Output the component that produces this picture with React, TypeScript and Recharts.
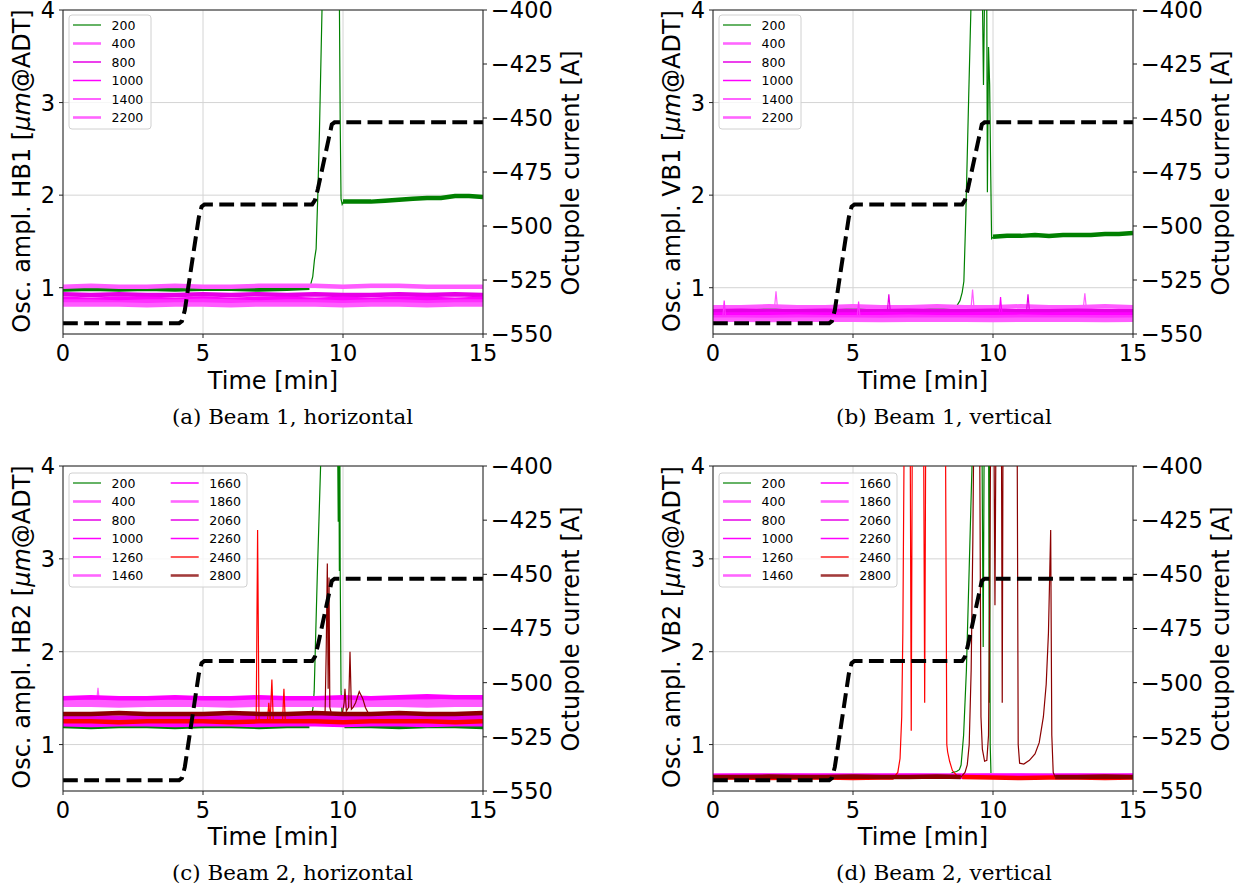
import { CartesianGrid, ComposedChart, Line, ReferenceLine, XAxis, YAxis } from "recharts";

type Pt = [number, number | null];

interface Series {
  name: string;
  band: Pt[];
  spike?: Pt[];
}

const TIME = [0, 1, 2, 3, 4, 5, 6, 7, 8, 9, 10, 11, 12, 13, 14, 15];
const TIME_TICKS = [0, 5, 10, 15];
const AMP_TICKS = [1, 2, 3, 4];
const CURRENT_TICKS = [-550, -525, -500, -475, -450, -425, -400];

// octupole current ramp (right axis), same in all four panels
const OCTUPOLE_CURRENT: Pt[] = [
  [0, -545], [4.15, -545], [4.25, -544], [4.35, -539], [4.85, -496], [4.95, -491], [5.05, -490],
  [8.9, -490], [9.0, -488], [9.1, -483], [9.5, -459], [9.6, -453], [9.7, -452], [15, -452],
];

// ---- (a) Beam 1, horizontal
const HB1_200_BAND: Pt[] = [
  [0, 0.98], [1, 0.99], [2, 0.98], [3, 0.99], [4, 0.98], [5, 0.99], [6, 0.99], [7, 0.98], [8, 0.99], [8.8, 1.0],
  [8.9, null],
  [10, 1.93], [10.5, 1.93], [11, 1.93], [11.5, 1.94], [12, 1.95], [12.5, 1.96], [13, 1.97], [13.5, 1.97], [14, 1.99], [14.5, 1.99], [15, 1.98],
];
const HB1_200_SPIKE: Pt[] = [
  [8.78, 1.0], [8.85, 1.04], [8.92, 1.12], [8.98, 1.3], [9.04, 1.42], [9.1, 2.0], [9.16, 2.7], [9.25, 4.0], [9.3, 4.6],
  [9.86, 4.6], [9.9, 2.8], [9.93, 1.96], [9.97, 1.9], [10.02, 1.93],
];
const HB1_400 = [1.01, 1.02, 1.01, 1.01, 1.02, 1.01, 1.01, 1.02, 1.02, 1.02, 1.01, 1.02, 1.02, 1.01, 1.01, 1.01];
const HB1_800 = [0.93, 0.92, 0.93, 0.92, 0.92, 0.93, 0.92, 0.93, 0.92, 0.93, 0.92, 0.92, 0.93, 0.92, 0.93, 0.92];
const HB1_1000 = [0.88, 0.87, 0.88, 0.88, 0.87, 0.88, 0.87, 0.88, 0.88, 0.87, 0.88, 0.87, 0.88, 0.88, 0.87, 0.88];
const HB1_1400 = [0.85, 0.85, 0.84, 0.85, 0.85, 0.86, 0.85, 0.84, 0.85, 0.85, 0.84, 0.85, 0.85, 0.84, 0.85, 0.85];
const HB1_2200 = [0.82, 0.82, 0.82, 0.81, 0.82, 0.82, 0.81, 0.82, 0.82, 0.82, 0.81, 0.82, 0.82, 0.81, 0.82, 0.82];

// ---- (b) Beam 1, vertical
const VB1_200_BAND: Pt[] = [
  [0, 0.77], [1, 0.77], [2, 0.78], [3, 0.77], [4, 0.77], [5, 0.78], [6, 0.77], [7, 0.77], [8, 0.78], [8.5, 0.78],
  [8.6, null],
  [10, 1.55], [10.5, 1.56], [11, 1.56], [11.5, 1.57], [12, 1.56], [12.5, 1.57], [13, 1.57], [13.5, 1.57], [14, 1.58], [14.5, 1.58], [15, 1.59],
];
const VB1_200_SPIKE: Pt[] = [
  [8.45, 0.78], [8.6, 0.79], [8.72, 0.81], [8.82, 0.86], [8.9, 0.95], [8.96, 1.07], [9.03, 1.79], [9.13, 3.04], [9.21, 4.0], [9.28, 4.7],
  [9.6, 4.7], [9.66, 3.19], [9.72, 4.7], [9.77, 4.7], [9.8, 2.03], [9.84, 3.6], [9.88, 3.2], [9.92, 2.2], [9.95, 1.53], [10.02, 1.55],
];
const VB1_400 = [0.79, 0.79, 0.8, 0.79, 0.79, 0.8, 0.79, 0.79, 0.8, 0.79, 0.79, 0.8, 0.79, 0.79, 0.8, 0.79];
const VB1_400_SPIKE: Pt[] = [
  [2.2, 0.79], [2.25, 0.96], [2.3, 0.79], [2.31, null], [9.22, 0.79], [9.27, 0.98], [9.32, 0.79], [9.33, null],
  [13.23, 0.79], [13.28, 0.94], [13.33, 0.79],
];
const VB1_800 = [0.745, 0.75, 0.745, 0.745, 0.75, 0.745, 0.745, 0.75, 0.745, 0.745, 0.75, 0.745, 0.745, 0.75, 0.745, 0.745];
const VB1_800_SPIKE: Pt[] = [[6.23, 0.75], [6.28, 0.93], [6.33, 0.75], [6.34, null], [11.2, 0.75], [11.25, 0.93], [11.3, 0.75]];
const VB1_1000 = [0.71, 0.71, 0.715, 0.71, 0.71, 0.71, 0.715, 0.71, 0.71, 0.71, 0.715, 0.71, 0.71, 0.715, 0.71, 0.71];
const VB1_1000_SPIKE: Pt[] = [[10.22, 0.71], [10.27, 0.9], [10.32, 0.71]];
const VB1_1400 = [0.68, 0.68, 0.68, 0.685, 0.68, 0.68, 0.68, 0.685, 0.68, 0.68, 0.68, 0.685, 0.68, 0.68, 0.68, 0.68];
const VB1_1400_SPIKE: Pt[] = [[0.35, 0.68], [0.4, 0.86], [0.45, 0.68], [0.46, null], [5.15, 0.68], [5.2, 0.85], [5.25, 0.68]];
const VB1_2200 = [0.655, 0.655, 0.65, 0.655, 0.655, 0.655, 0.65, 0.655, 0.655, 0.655, 0.65, 0.655, 0.655, 0.655, 0.65, 0.655];

// ---- (c) Beam 2, horizontal
const HB2_200_BAND: Pt[] = [
  [0, 1.2], [1, 1.19], [2, 1.2], [3, 1.2], [4, 1.19], [5, 1.2], [6, 1.2], [7, 1.19], [8, 1.2], [8.8, 1.2],
  [8.9, null],
  [10.05, 1.2], [11, 1.2], [12, 1.19], [13, 1.2], [14, 1.2], [15, 1.19],
];
const HB2_200_SPIKE: Pt[] = [
  [8.75, 1.2], [8.85, 1.25], [8.93, 1.4], [8.97, 1.57], [9.08, 2.8], [9.2, 4.0], [9.25, 4.6],
  [9.8, 4.6], [9.83, 3.4], [9.85, 4.6], [9.87, 2.87], [9.89, 4.0], [9.9, 2.9], [9.93, 1.57], [9.97, 1.3], [10.05, 1.2],
];
const HB2_400 = [1.47, 1.47, 1.48, 1.47, 1.47, 1.48, 1.47, 1.47, 1.48, 1.47, 1.47, 1.48, 1.47, 1.48, 1.47, 1.47];
const HB2_800 = [1.3, 1.3, 1.29, 1.3, 1.3, 1.3, 1.29, 1.3, 1.3, 1.3, 1.29, 1.3, 1.3, 1.3, 1.29, 1.3];
const HB2_1000 = [1.44, 1.44, 1.45, 1.44, 1.44, 1.44, 1.45, 1.44, 1.44, 1.45, 1.44, 1.44, 1.44, 1.45, 1.44, 1.44];
const HB2_1260 = [1.49, 1.5, 1.49, 1.49, 1.5, 1.49, 1.49, 1.5, 1.49, 1.49, 1.5, 1.49, 1.5, 1.49, 1.49, 1.5];
const HB2_1460 = [1.46, 1.46, 1.46, 1.47, 1.46, 1.46, 1.46, 1.47, 1.46, 1.46, 1.46, 1.47, 1.46, 1.46, 1.47, 1.46];
const HB2_1460_SPIKE: Pt[] = [[1.2, 1.46], [1.25, 1.61], [1.3, 1.46]];
const HB2_1660 = [1.5, 1.51, 1.5, 1.5, 1.51, 1.5, 1.5, 1.51, 1.5, 1.5, 1.51, 1.5, 1.51, 1.52, 1.51, 1.51];
const HB2_1860 = [1.43, 1.43, 1.42, 1.43, 1.43, 1.43, 1.42, 1.43, 1.43, 1.43, 1.42, 1.43, 1.43, 1.42, 1.43, 1.43];
const HB2_2060 = [1.28, 1.28, 1.28, 1.27, 1.28, 1.28, 1.28, 1.27, 1.28, 1.28, 1.28, 1.27, 1.28, 1.28, 1.28, 1.27];
const HB2_2260 = [1.22, 1.21, 1.22, 1.22, 1.21, 1.22, 1.22, 1.21, 1.22, 1.22, 1.21, 1.22, 1.22, 1.21, 1.22, 1.22];
const HB2_2460 = [1.25, 1.25, 1.24, 1.25, 1.25, 1.25, 1.24, 1.25, 1.25, 1.25, 1.24, 1.25, 1.25, 1.25, 1.24, 1.25];
const HB2_2460_SPIKE: Pt[] = [
  [6.9, 1.25], [6.95, 3.31], [7.0, 1.25], [7.01, null], [7.3, 1.25], [7.35, 1.45], [7.4, 1.26], [7.46, 1.7], [7.51, 1.25],
  [7.52, null], [7.84, 1.25], [7.89, 1.6], [7.94, 1.25],
];
const HB2_2800 = [1.33, 1.33, 1.34, 1.33, 1.33, 1.33, 1.34, 1.33, 1.33, 1.34, 1.33, 1.33, 1.34, 1.33, 1.33, 1.34];
const HB2_2800_SPIKE: Pt[] = [
  [9.36, 1.34], [9.4, 2.0], [9.44, 2.95], [9.47, 1.6], [9.5, 2.8], [9.53, 1.4], [9.58, 1.34], [9.59, null],
  [9.98, 1.34], [10.04, 1.45], [10.07, 1.6], [10.12, 1.36], [10.2, 1.4], [10.25, 2.0], [10.3, 1.38], [10.36, 1.4],
  [10.45, 1.45], [10.58, 1.57], [10.7, 1.5], [10.8, 1.4], [10.9, 1.34],
];

// ---- (d) Beam 2, vertical
const VB2_200_BAND: Pt[] = [
  [0, 0.66], [1, 0.66], [2, 0.665], [3, 0.66], [4, 0.66], [5, 0.665], [6, 0.66], [7, 0.66], [8, 0.665], [8.4, 0.66],
  [8.5, null],
  [9.95, 0.66], [11, 0.66], [12, 0.665], [13, 0.66], [14, 0.66], [15, 0.665],
];
const VB2_200_SPIKE: Pt[] = [
  [8.4, 0.66], [8.55, 0.7], [8.7, 0.71], [8.8, 0.73], [8.86, 0.78], [8.95, 1.1], [9.05, 1.8], [9.15, 2.9], [9.25, 4.0], [9.3, 4.6],
  [9.6, 4.6], [9.65, 2.05], [9.69, 4.6], [9.84, 4.6], [9.87, 1.45], [9.88, 4.0], [9.9, 1.0], [9.93, 0.66], [10, 0.66],
];
const VB2_400 = [0.665, 0.665, 0.67, 0.665, 0.665, 0.665, 0.67, 0.665, 0.665, 0.665, 0.67, 0.665, 0.665, 0.665, 0.67, 0.665];
const VB2_800 = [0.655, 0.655, 0.655, 0.66, 0.655, 0.655, 0.655, 0.66, 0.655, 0.655, 0.655, 0.66, 0.655, 0.655, 0.655, 0.66];
const VB2_1000 = [0.66, 0.66, 0.665, 0.66, 0.66, 0.66, 0.665, 0.66, 0.66, 0.665, 0.66, 0.66, 0.66, 0.665, 0.66, 0.66];
const VB2_1260 = [0.665, 0.67, 0.665, 0.665, 0.67, 0.665, 0.665, 0.67, 0.665, 0.665, 0.67, 0.665, 0.665, 0.67, 0.665, 0.665];
const VB2_1460 = [0.655, 0.655, 0.66, 0.655, 0.655, 0.66, 0.655, 0.655, 0.66, 0.655, 0.655, 0.66, 0.655, 0.655, 0.66, 0.655];
const VB2_1660 = [0.66, 0.665, 0.66, 0.66, 0.665, 0.66, 0.66, 0.665, 0.66, 0.66, 0.665, 0.66, 0.66, 0.665, 0.66, 0.66];
const VB2_1860 = [0.665, 0.665, 0.665, 0.67, 0.665, 0.665, 0.665, 0.67, 0.665, 0.665, 0.665, 0.67, 0.665, 0.665, 0.665, 0.67];
const VB2_2060 = [0.655, 0.655, 0.655, 0.655, 0.66, 0.655, 0.655, 0.655, 0.66, 0.655, 0.655, 0.655, 0.66, 0.655, 0.655, 0.655];
const VB2_2260 = [0.66, 0.66, 0.66, 0.665, 0.66, 0.66, 0.66, 0.665, 0.66, 0.66, 0.66, 0.665, 0.66, 0.66, 0.66, 0.665];
const VB2_2460_BAND: Pt[] = [
  [0, 0.645], [1, 0.645], [2, 0.64], [3, 0.645], [4, 0.645], [5, 0.64], [6, 0.645], [6.45, 0.645],
  [6.5, null],
  [8.9, 0.65], [10, 0.645], [11, 0.64], [12, 0.645], [13, 0.645], [14, 0.64], [15, 0.645],
];
const VB2_2460_SPIKE: Pt[] = [
  [6.45, 0.645], [6.6, 0.7], [6.68, 0.85], [6.74, 1.3], [6.78, 2.2], [6.82, 4.0], [6.86, 4.6],
  [7.04, 4.6], [7.08, 1.15], [7.12, 4.6], [7.52, 4.6], [7.56, 1.45], [7.6, 4.6],
  [8.3, 4.6], [8.35, 1.0], [8.38, 0.92], [8.45, 0.82], [8.55, 0.72], [8.7, 0.67], [8.9, 0.65],
];
const VB2_2800_BAND: Pt[] = [
  [0, 0.65], [1, 0.65], [2, 0.655], [3, 0.65], [4, 0.65], [5, 0.655], [6, 0.65], [7, 0.65], [8, 0.655], [8.85, 0.65],
  [8.9, null],
  [12.22, 0.65], [13, 0.65], [14, 0.655], [15, 0.65],
];
const VB2_2800_SPIKE: Pt[] = [
  [8.85, 0.65], [9.0, 0.7], [9.08, 0.78], [9.15, 1.0], [9.22, 1.8], [9.28, 3.2], [9.32, 4.6],
  [9.52, 4.6], [9.57, 1.3], [9.62, 0.95], [9.7, 0.82], [9.78, 0.83], [9.84, 1.1], [9.88, 2.5], [9.92, 4.6],
  [10.03, 4.6], [10.07, 2.5], [10.11, 4.6], [10.3, 4.6], [10.33, 1.45], [10.36, 4.6],
  [10.86, 4.6], [10.9, 1.0], [10.95, 0.8], [11.1, 0.79], [11.3, 0.83], [11.5, 0.9], [11.65, 1.02], [11.8, 1.3],
  [11.9, 1.65], [11.98, 2.2], [12.03, 2.9], [12.06, 3.31], [12.1, 1.1], [12.15, 0.7], [12.22, 0.65],
];

const LINE_STYLE: Record<string, { color: string; legendColor: string; legendWidth: number }> = {
  "200": { color: "#008000", legendColor: "#008000", legendWidth: 1.2 },
  "400": { color: "#ff5cff", legendColor: "#ff66ff", legendWidth: 2.6 },
  "800": { color: "#e600e6", legendColor: "#e600e6", legendWidth: 1.5 },
  "1000": { color: "#ff00ff", legendColor: "#ff00ff", legendWidth: 1.5 },
  "1260": { color: "#ff14ff", legendColor: "#ff14ff", legendWidth: 1.5 },
  "1400": { color: "#ff2eff", legendColor: "#ff2eff", legendWidth: 1.5 },
  "1460": { color: "#ff5cff", legendColor: "#ff66ff", legendWidth: 2.6 },
  "1660": { color: "#ff00ff", legendColor: "#ff00ff", legendWidth: 1.5 },
  "1860": { color: "#ff5cff", legendColor: "#ff66ff", legendWidth: 2.6 },
  "2060": { color: "#e600e6", legendColor: "#e600e6", legendWidth: 1.5 },
  "2200": { color: "#ff5cff", legendColor: "#ff66ff", legendWidth: 2.6 },
  "2260": { color: "#ff00ff", legendColor: "#ff00ff", legendWidth: 1.5 },
  "2460": { color: "#ff0000", legendColor: "#ff2020", legendWidth: 1.5 },
  "2800": { color: "#8b0000", legendColor: "#a33c3c", legendWidth: 2.6 },
};

const flat = (values: number[]): Pt[] => TIME.map((t, i) => [t, values[i]]);
const rows = (pts: Pt[]) => pts.map(([x, y]) => ({ x, y }));

const HB1: Series[] = [
  { name: "200", band: HB1_200_BAND, spike: HB1_200_SPIKE },
  { name: "400", band: flat(HB1_400) },
  { name: "800", band: flat(HB1_800) },
  { name: "1000", band: flat(HB1_1000) },
  { name: "1400", band: flat(HB1_1400) },
  { name: "2200", band: flat(HB1_2200) },
];
const VB1: Series[] = [
  { name: "200", band: VB1_200_BAND, spike: VB1_200_SPIKE },
  { name: "400", band: flat(VB1_400), spike: VB1_400_SPIKE },
  { name: "800", band: flat(VB1_800), spike: VB1_800_SPIKE },
  { name: "1000", band: flat(VB1_1000), spike: VB1_1000_SPIKE },
  { name: "1400", band: flat(VB1_1400), spike: VB1_1400_SPIKE },
  { name: "2200", band: flat(VB1_2200) },
];
const HB2: Series[] = [
  { name: "200", band: HB2_200_BAND, spike: HB2_200_SPIKE },
  { name: "400", band: flat(HB2_400) },
  { name: "800", band: flat(HB2_800) },
  { name: "1000", band: flat(HB2_1000) },
  { name: "1260", band: flat(HB2_1260) },
  { name: "1460", band: flat(HB2_1460), spike: HB2_1460_SPIKE },
  { name: "1660", band: flat(HB2_1660) },
  { name: "1860", band: flat(HB2_1860) },
  { name: "2060", band: flat(HB2_2060) },
  { name: "2260", band: flat(HB2_2260) },
  { name: "2460", band: flat(HB2_2460), spike: HB2_2460_SPIKE },
  { name: "2800", band: flat(HB2_2800), spike: HB2_2800_SPIKE },
];
const VB2: Series[] = [
  { name: "200", band: VB2_200_BAND, spike: VB2_200_SPIKE },
  { name: "400", band: flat(VB2_400) },
  { name: "800", band: flat(VB2_800) },
  { name: "1000", band: flat(VB2_1000) },
  { name: "1260", band: flat(VB2_1260) },
  { name: "1460", band: flat(VB2_1460) },
  { name: "1660", band: flat(VB2_1660) },
  { name: "1860", band: flat(VB2_1860) },
  { name: "2060", band: flat(VB2_2060) },
  { name: "2260", band: flat(VB2_2260) },
  { name: "2460", band: VB2_2460_BAND, spike: VB2_2460_SPIKE },
  { name: "2800", band: VB2_2800_BAND, spike: VB2_2800_SPIKE },
];

const FONT = "DejaVu Sans";
const TICK = { fontSize: 22.5, fill: "#000", fontFamily: FONT };
const AXIS_COLOR = "#222";

const minus = (v: number) => (v < 0 ? `\u2212${Math.abs(v)}` : `${v}`);

function Panel({ left, top, plotH, series }: { left: number; top: number; plotH: number; series: Series[] }) {
  return (
    <div style={{ position: "absolute", left, top }}>
      <ComposedChart width={590} height={10 + plotH + 40} margin={{ top: 10, right: 0, bottom: 0, left: 0 }}>
        <CartesianGrid stroke="#d4d4d4" strokeWidth={1} />
        <XAxis
          type="number"
          dataKey="x"
          domain={[0, 15]}
          ticks={TIME_TICKS}
          interval={0}
          allowDataOverflow
          height={40}
          tick={TICK}
          tickSize={4}
          tickMargin={7}
          stroke={AXIS_COLOR}
        />
        <YAxis
          domain={[0.5, 4]}
          ticks={AMP_TICKS}
          interval={0}
          allowDataOverflow
          width={63}
          tick={TICK}
          tickSize={4}
          tickMargin={4}
          stroke={AXIS_COLOR}
        />
        <YAxis
          yAxisId="cur"
          orientation="right"
          domain={[-550, -400]}
          ticks={CURRENT_TICKS}
          interval={0}
          allowDataOverflow
          width={107}
          tick={TICK}
          tickSize={4}
          tickMargin={4}
          tickFormatter={minus}
          stroke={AXIS_COLOR}
        />
        <ReferenceLine y={4} stroke={AXIS_COLOR} strokeWidth={1} />
        {series.map((s) => [
          <Line
            key={`${s.name}-band`}
            data={rows(s.band)}
            dataKey="y"
            type="linear"
            stroke={LINE_STYLE[s.name].color}
            strokeWidth={4.5}
            dot={false}
            activeDot={false}
            isAnimationActive={false}
          />,
          s.spike ? (
            <Line
              key={`${s.name}-spike`}
              data={rows(s.spike)}
              dataKey="y"
              type="linear"
              stroke={LINE_STYLE[s.name].color}
              strokeWidth={1.2}
              dot={false}
              activeDot={false}
              isAnimationActive={false}
            />
          ) : null,
        ])}
        <Line
          yAxisId="cur"
          data={rows(OCTUPOLE_CURRENT)}
          dataKey="y"
          type="linear"
          stroke="#000"
          strokeWidth={4}
          strokeDasharray="14.8 6.4"
          dot={false}
          activeDot={false}
          isAnimationActive={false}
        />
      </ComposedChart>
    </div>
  );
}

function LegendBox({ x, y, names }: { x: number; y: number; names: string[] }) {
  const cols = names.length > 6 ? 2 : 1;
  return (
    <g>
      <rect x={x} y={y} width={cols === 2 ? 178 : 82} height={114} rx={3} fill="#fff" fillOpacity={0.8} stroke="#d0d0d0" />
      {names.map((n, i) => {
        const col = Math.floor(i / 6);
        const row = i % 6;
        const cy = y + 10 + row * 18.5;
        const lx = x + 4 + col * 97.7;
        const st = LINE_STYLE[n];
        return (
          <g key={n}>
            <line x1={lx} x2={lx + 28} y1={cy} y2={cy} stroke={st.legendColor} strokeWidth={st.legendWidth} />
            <text x={lx + 38.5} y={cy + 4.5} fontSize={12.5} fontFamily={FONT} fill="#000">
              {n}
            </text>
          </g>
        );
      })}
    </g>
  );
}

function Labels({ dx, dy, plane, caption, captionX, captionWidth, names }: {
  dx: number; dy: number; plane: string; caption: string; captionX: number; captionWidth: number; names: string[];
}) {
  return (
    <g>
      <text transform={`translate(${30 + dx},${171 + dy}) rotate(-90)`} textAnchor="middle" fontSize={24} fontFamily={FONT} fill="#000">
        {`Osc. ampl. ${plane} [`}
        <tspan fontStyle="italic">μm</tspan>
        {"@ADT]"}
      </text>
      <text transform={`translate(${578.5 + dx},${173 + dy}) rotate(-90)`} textAnchor="middle" fontSize={24} fontFamily={FONT} fill="#000">
        Octupole current [A]
      </text>
      <text x={273 + dx} y={389 + dy} textAnchor="middle" fontSize={24} fontFamily={FONT} fill="#000">
        Time [min]
      </text>
      <text
        x={captionX}
        y={424 + dy}
        fontSize={20}
        fontFamily="DejaVu Serif"
        fill="#000"
        textLength={captionWidth}
        lengthAdjust="spacingAndGlyphs"
      >
        {caption}
      </text>
      <LegendBox x={69 + dx} y={15 + dy + (names.length > 6 ? 2 : 0)} names={names} />
    </g>
  );
}

export default function App() {
  return (
    <div style={{ position: "absolute", left: 0, top: 0, width: 1240, height: 892, background: "#fff", overflow: "hidden" }}>
      <Panel left={0} top={0} plotH={324} series={HB1} />
      <Panel left={650} top={0} plotH={324} series={VB1} />
      <Panel left={0} top={456} plotH={325} series={HB2} />
      <Panel left={650} top={456} plotH={325} series={VB2} />
      <svg width={1240} height={892} style={{ position: "absolute", left: 0, top: 0, pointerEvents: "none" }}>
        <Labels dx={0} dy={0} plane="HB1" caption="(a) Beam 1, horizontal" captionX={172} captionWidth={241} names={HB1.map((s) => s.name)} />
        <Labels dx={650} dy={0} plane="VB1" caption="(b) Beam 1, vertical" captionX={836} captionWidth={216} names={VB1.map((s) => s.name)} />
        <Labels dx={0} dy={456} plane="HB2" caption="(c) Beam 2, horizontal" captionX={172} captionWidth={241} names={HB2.map((s) => s.name)} />
        <Labels dx={650} dy={456} plane="VB2" caption="(d) Beam 2, vertical" captionX={836} captionWidth={216} names={VB2.map((s) => s.name)} />
      </svg>
    </div>
  );
}
